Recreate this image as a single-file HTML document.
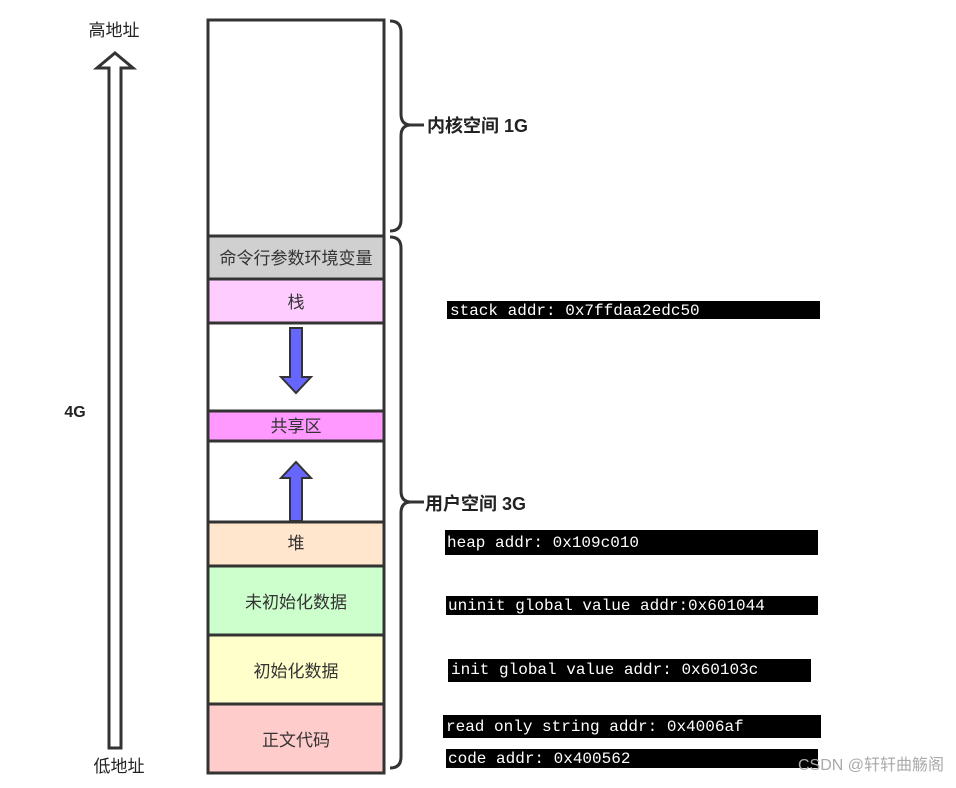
<!DOCTYPE html>
<html><head><meta charset="utf-8"><style>
body{margin:0;background:#fff}
svg text{font-family:"Liberation Sans","Noto Sans CJK SC",sans-serif}
.m{font-family:"Liberation Mono","DejaVu Sans Mono",monospace;font-size:16px;fill:#fff}
</style></head><body>
<svg width="956" height="783" xmlns="http://www.w3.org/2000/svg">
<g stroke="#333" stroke-width="3">
<rect x="208" y="20" width="176" height="216" fill="#fff"/>
<rect x="208" y="236" width="176" height="43" fill="#d0d0d0"/>
<rect x="208" y="279" width="176" height="44" fill="#ffccff"/>
<rect x="208" y="323" width="176" height="88" fill="#fff"/>
<rect x="208" y="411" width="176" height="30" fill="#ff99ff"/>
<rect x="208" y="441" width="176" height="81" fill="#fff"/>
<rect x="208" y="522" width="176" height="44" fill="#ffe6cc"/>
<rect x="208" y="566" width="176" height="69" fill="#ccffcc"/>
<rect x="208" y="635" width="176" height="69" fill="#ffffcc"/>
<rect x="208" y="704" width="176" height="69" fill="#ffcccc"/>
</g>
<g fill="#333" font-size="17" text-anchor="middle">
<text x="296" y="264">命令行参数环境变量</text>
<text x="296" y="308">栈</text>
<text x="296" y="432">共享区</text>
<text x="296" y="549">堆</text>
<text x="296" y="608">未初始化数据</text>
<text x="296" y="677">初始化数据</text>
<text x="296" y="746">正文代码</text>
</g>
<!-- blue arrows -->
<path d="M290,328 H302 V377 H311 L296,393 L281,377 H290 Z" fill="#6666ff" stroke="#333" stroke-width="2"/>
<path d="M290,521 V478 H281 L296,462 L311,478 H302 V521 Z" fill="#6666ff" stroke="#333" stroke-width="2"/>
<!-- left arrow -->
<path d="M109,748 V68 H97 L115,53 L133,68 H121 V748 Z" fill="#fff" stroke="#333" stroke-width="3"/>
<text x="114" y="36" font-size="17" text-anchor="middle" fill="#222">高地址</text>
<text x="119" y="772" font-size="17" text-anchor="middle" fill="#222">低地址</text>
<text x="75" y="417" font-size="16" font-weight="bold" text-anchor="middle" fill="#222">4G</text>
<!-- braces -->
<path d="M390,21 Q401,21 401,32 V114 Q401,125 411,125 Q401,125 401,136 V220 Q401,231 390,231" fill="none" stroke="#333" stroke-width="3"/>
<line x1="406" y1="125" x2="424" y2="125" stroke="#333" stroke-width="3"/>
<text x="427" y="132" font-size="18" font-weight="bold" fill="#222">内核空间 1G</text>
<path d="M390,237 Q401,237 401,248 V491 Q401,502 411,502 Q401,502 401,513 V757 Q401,768 390,768" fill="none" stroke="#333" stroke-width="3"/>
<line x1="406" y1="502" x2="424" y2="502" stroke="#333" stroke-width="3"/>
<text x="425" y="510" font-size="18" font-weight="bold" fill="#222">用户空间 3G</text>
<!-- black boxes -->
<rect x="447" y="301" width="373" height="18" fill="#000"/>
<text class="m" x="450" y="315">stack addr: 0x7ffdaa2edc50</text>
<rect x="445" y="530" width="373" height="25" fill="#000"/>
<text class="m" x="447" y="547">heap addr: 0x109c010</text>
<rect x="446" y="596" width="372" height="19" fill="#000"/>
<text class="m" x="448" y="610">uninit global value addr:0x601044</text>
<rect x="448" y="659" width="363" height="23" fill="#000"/>
<text class="m" x="451" y="674">init global value addr: 0x60103c</text>
<rect x="443" y="715" width="378" height="23" fill="#000"/>
<text class="m" x="446" y="731">read only string addr: 0x4006af</text>
<rect x="446" y="749" width="372" height="19" fill="#000"/>
<text class="m" x="448" y="763">code addr: 0x400562</text>
<text x="944" y="770" font-size="16" text-anchor="end" fill="#aaa">CSDN @轩轩曲觞阁</text>
</svg>
</body></html>
